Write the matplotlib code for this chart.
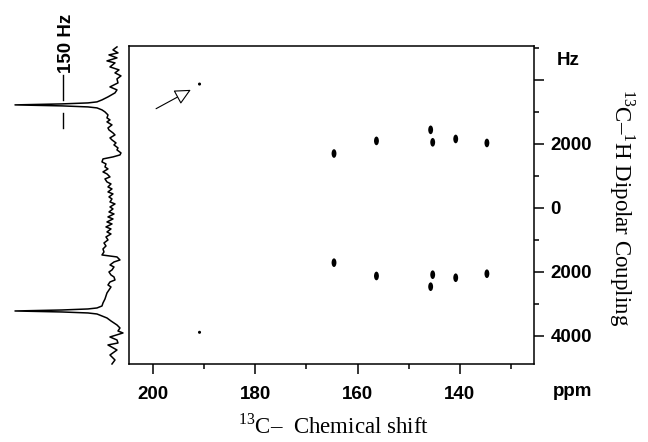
import matplotlib
matplotlib.use('Agg')
import matplotlib.pyplot as plt
from matplotlib.patches import Ellipse

plt.rcParams['font.family'] = ['Liberation Sans', 'DejaVu Sans']
plt.rcParams['mathtext.fontset'] = 'custom'
plt.rcParams['mathtext.rm'] = 'Liberation Serif'

# 2D cross peaks (13C shift in ppm, dipolar splitting in Hz)
peak_ppm = [190.9, 164.6, 156.3, 145.7, 145.3, 140.8, 134.7]
peak_hz_upper = [3870, 1700, 2095, 2440, 2050, 2155, 2030]
peak_hz_lower = [-3885, -1710, -2125, -2460, -2085, -2180, -2055]
peak_small = [True, False, False, False, False, False, False]

# projected dipolar slice (left side)
trace_hz = [5031, 4938, 4844, 4781, 4688, 4594, 4531, 4406, 4313, 4219,
            4125, 4031, 3906, 3781, 3688, 3594, 3469, 3375, 3313, 3281,
            3250, 3219, 3188, 3156, 3125, 3063, 3000, 2906, 2813, 2750,
            2688, 2594, 2500, 2438, 2344, 2281, 2188, 2125, 2031, 1969,
            1875, 1813, 1719, 1656, 1594, 1531, 1438, 1375, 1281, 1219,
            1125, 1063, 969, 906, 813, 750, 656, 594, 500, 438,
            344, 281, 188, 125, 31, -31, -125, -188, -281, -344,
            -438, -500, -594, -656, -750, -813, -906, -1000, -1094, -1188,
            -1281, -1375, -1469, -1531, -1625, -1688, -1781, -1844, -1938, -2000,
            -2094, -2156, -2250, -2313, -2406, -2469, -2563, -2656, -2750, -2844,
            -2969, -3063, -3125, -3156, -3188, -3219, -3250, -3281, -3313, -3375,
            -3438, -3531, -3656, -3750, -3844, -3906, -4031, -4125, -4219, -4281,
            -4438, -4594, -4750, -4875]
trace_int = [5, 9, 4, 13, 5, 15, 7, 12, 3, 7,
             1, 5, 4, 12, 5, 7, 14, 20, 25, 34,
             60, 107, 60, 34, 25, 20, 17, 14, 15, 12,
             15, 10, 14, 13, 9, 7, 12, 10, 6, 8,
             4, 5, 1, 2, 9, 19, 20, 16, 17, 14,
             19, 15, 12, 17, 15, 11, 14, 10, 14, 9,
             13, 10, 12, 7, 12, 9, 13, 8, 14, 9,
             15, 10, 16, 11, 15, 11, 16, 14, 18, 16,
             19, 18, 20, 5, 2, 8, 12, 8, 10, 13,
             11, 8, 7, 12, 14, 11, 13, 15, 16, 17,
             19, 20, 25, 34, 60, 107, 60, 34, 25, 20,
             15, 11, 5, 2, 4, -1, 12, 5, 4, 14,
             5, 12, 7, 10]

x_major = [200, 180, 160, 140]
x_minor = [190, 170, 150, 130]
y_major = [-4000, -2000, 0, 2000, 4000]
y_labels = ['4000', '2000', '0', '2000', '']
y_minor = [-3000, -1000, 1000, 3000, 5000]

fig = plt.figure(figsize=(6.48, 4.42), dpi=100)
ax = fig.add_axes([0.199, 0.1765, 0.625, 0.7195])
ax.set_xlim(204.7, 125.5)
ax.set_ylim(-4875, 5060)

for p, hu, hl, small in zip(peak_ppm, peak_hz_upper, peak_hz_lower, peak_small):
    w, h = (0.6, 95) if small else (0.95, 270)
    for hz in (hu, hl):
        ax.add_patch(Ellipse((p, hz), w, h, color='black', lw=0))

ax.annotate('', xy=(192.6, 3690), xytext=(199.4, 3100),
            arrowprops=dict(arrowstyle='-|>,head_length=0.45,head_width=0.22',
                            mutation_scale=22, fc='white', ec='black', lw=0.8,
                            shrinkA=0, shrinkB=0))

ax.set_xticks(x_major)
ax.set_xticks(x_minor, minor=True)
ax.set_xticklabels([str(v) for v in x_major], fontsize=13.5, fontweight='bold')
ax.yaxis.tick_right()
ax.set_yticks(y_major)
ax.set_yticks(y_minor, minor=True)
ax.set_yticklabels(y_labels, fontsize=13.5, fontweight='bold')
ax.tick_params(which='major', direction='out', length=7, width=1.1)
ax.tick_params(which='minor', direction='out', length=3.5, width=1.1)
ax.tick_params(axis='x', which='major', pad=9)
ax.tick_params(axis='y', which='major', pad=5)
for s in ax.spines.values():
    s.set_linewidth(1.1)

ax.text(1.057, 0.953, 'Hz', transform=ax.transAxes, fontsize=13.5,
        fontweight='bold', ha='left', va='center')
ax.text(1.047, -0.088, 'ppm', transform=ax.transAxes, fontsize=13.5,
        fontweight='bold', ha='left', va='center')

fig.text(0.515, 0.035, '$^{13}$C–  Chemical shift', fontsize=16.5,
         family='Liberation Serif', ha='center', va='center')
fig.text(0.96, 0.53, '$^{13}$C–$^{1}$H Dipolar Coupling', fontsize=16.5,
         family='Liberation Serif', rotation=270, ha='center', va='center')

# slice on the left
tax = fig.add_axes([0.0, 0.1765, 0.1944, 0.7195])
tax.set_xlim(122, -4)
tax.set_ylim(-4875, 5060)
tax.axis('off')
tax.plot(trace_int, trace_hz, color='black', lw=1.1, clip_on=False)
tax.plot([59, 59], [4156, 3375], color='black', lw=1.0, clip_on=False)
tax.plot([59, 59], [2969, 2500], color='black', lw=1.0, clip_on=False)
tax.text(55, 5156, '150 Hz', rotation=90, fontsize=13.5, fontweight='bold',
         ha='center', va='center')

fig.savefig('out.png', dpi=100)
